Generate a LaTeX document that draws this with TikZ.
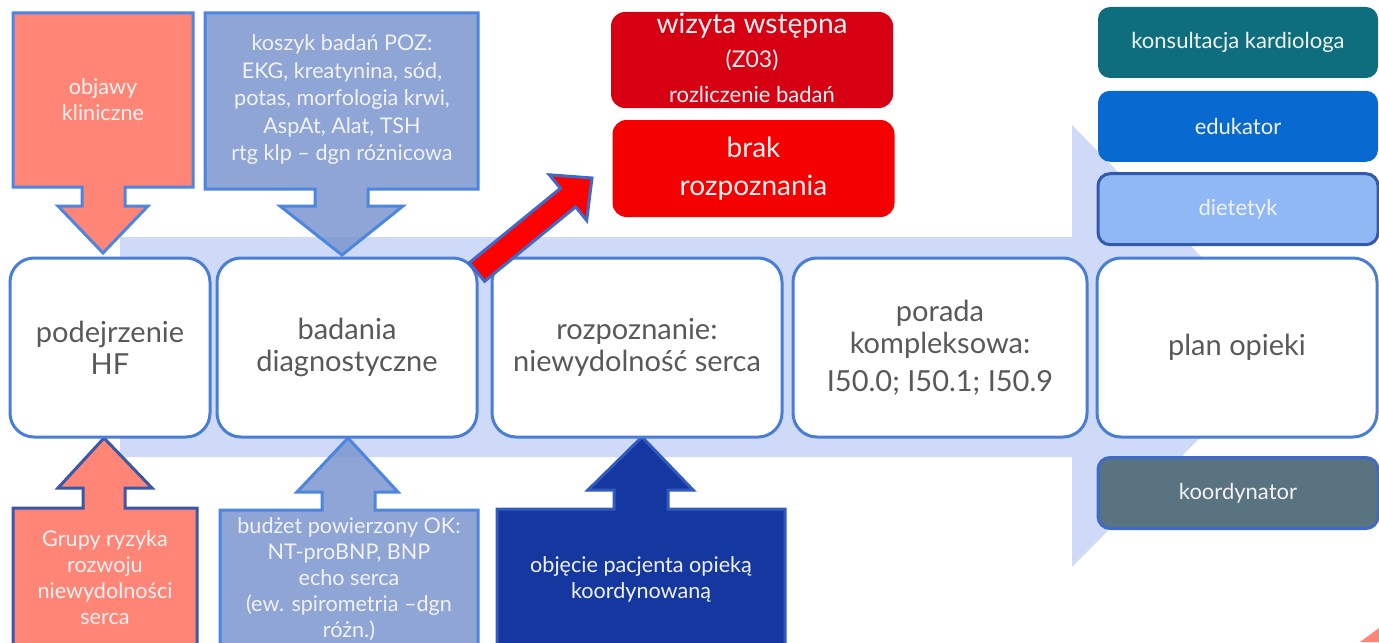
\documentclass[tikz,border=0pt]{standalone}
\usepackage{fontspec}
\setmainfont{Lato}
\usetikzlibrary{positioning}

\definecolor{bandblue}{RGB}{207,218,248}
\definecolor{stageline}{RGB}{74,125,214}
\definecolor{stagetext}{RGB}{89,89,89}
\definecolor{salmon}{RGB}{255,133,119}
\definecolor{steel}{RGB}{126,152,207}
\definecolor{callline}{RGB}{77,134,224}
\definecolor{darkline}{RGB}{58,88,168}
\definecolor{navy}{RGB}{20,56,160}
\definecolor{navyline}{RGB}{50,90,190}
\definecolor{wizred}{RGB}{214,0,18}
\definecolor{brakred}{RGB}{245,0,0}
\definecolor{arrowline}{RGB}{63,106,200}
\definecolor{teal}{RGB}{14,110,125}
\definecolor{edublue}{RGB}{8,106,208}
\definecolor{dietblue}{RGB}{143,184,245}
\definecolor{dietline}{RGB}{50,90,170}
\definecolor{koordgray}{RGB}{90,115,128}
\definecolor{lighttext}{RGB}{242,242,242}

\begin{document}
\begin{tikzpicture}[x=0.5pt,y=-0.5pt,
    stage/.style={draw=stageline, line width=1.5pt, fill=white, rounded corners=12pt,
        text=stagetext, align=center, font=\fontsize{14.5}{16}\selectfont},
    side/.style={rounded corners=6pt, minimum width=140pt, minimum height=35.5pt,
        text=lighttext, font=\fontsize{11}{13}\selectfont},
    redbox/.style={rounded corners=7pt, minimum width=141pt, text=lighttext, align=center},
    call/.style={line width=1.5pt, line join=miter},
    calltext/.style={align=center, text=lighttext, font=\fontsize{10.8}{13}\selectfont}
]
\useasboundingbox (0,0) rectangle (1379,642);

% Main band
\fill[bandblue] (120,237) -- (1072,237) -- (1072,125) -- (1290,347) -- (1072,567)
    -- (1072,457) -- (120,457) -- cycle;

% Arrows from above
\draw[call, draw=callline, fill=salmon] (13,13) -- (193,13) -- (193,187) -- (125,187)
    -- (125,206) -- (148,206) -- (103,253) -- (58,206) -- (82,206) -- (82,187)
    -- (13,187) -- cycle;
\node[calltext] (objawy) at (103,100) {objawy\\kliniczne};

\draw[call, draw=callline, fill=steel, fill opacity=0.88] (205,13) -- (478,13) -- (478,189)
    -- (368,189) -- (368,206) -- (403,206) -- (342,255) -- (280,206) -- (315,206)
    -- (315,189) -- (205,189) -- cycle;
\node[calltext, font=\fontsize{10.8}{13.75}\selectfont] (koszyk) at (342,100)
    {koszyk badań POZ:\\EKG, kreatynina, sód,\\potas, morfologia krwi,\\AspAt, Alat, TSH\\rtg klp – dgn różnicowa};

% Arrows from below
\draw[call, draw=darkline, fill=salmon] (13,660) -- (13,508) -- (83,508) -- (83,488)
    -- (58,488) -- (104,438) -- (152,488) -- (125,488) -- (125,508) -- (197,508)
    -- (197,660) -- cycle;
\node[calltext] (ryzyko) at (105,578) {Grupy ryzyka\\rozwoju\\niewydolności\\serca};

\draw[call, draw=callline, fill=steel, fill opacity=0.88] (220,660) -- (220,510) -- (322,510)
    -- (322,492) -- (297,492) -- (348,438) -- (398,492) -- (375,492) -- (375,510)
    -- (478,510) -- (478,660) -- cycle;
\node[calltext] (budzet) at (349,579)
    {budżet powierzony OK:\\NT-proBNP, BNP\\echo serca\\(ew. spirometria –dgn\\różn.)};

\draw[call, draw=navyline, fill=navy] (497,660) -- (497,509) -- (614,509)
    -- (614,490) -- (588,490) -- (642,437) -- (693,490) -- (668,490) -- (668,509)
    -- (785,509) -- (785,660) -- cycle;
\node[calltext] (objecie) at (641,579) {objęcie pacjenta opieką\\koordynowaną};

% Stages
\node[stage, minimum width=100pt, minimum height=89.5pt] (podej) at (110,347.5) {podejrzenie\\HF};
\node[stage, minimum width=130pt, minimum height=89.5pt] (badania) at (347,347.5) {badania\\diagnostyczne};
\node[stage, minimum width=145pt, minimum height=89.5pt] (rozpozn) at (637,347.5) {rozpoznanie:\\niewydolność serca};
\node[stage, minimum width=147pt, minimum height=89.5pt] (porada) at (940,347.5)
    {porada\\kompleksowa:\\[3pt]I50.0; I50.1; I50.9};
\node[stage, minimum width=140pt, minimum height=89.5pt] (plan) at (1237,347.5) {plan opieki};

% Red boxes
\node[redbox, fill=wizred, minimum height=48pt] (wizyta) at (752,60) {};
\node[text=lighttext, font=\fontsize{14}{16}\selectfont] (wizyta1) at (752,26) {wizyta wstępna};
\node[text=lighttext, font=\fontsize{11.5}{13}\selectfont] (wizyta2) at (752,60) {(Z03)};
\node[text=lighttext, font=\fontsize{11}{13}\selectfont] (wizyta3) at (752,94) {rozliczenie badań};
\node[redbox, fill=brakred, minimum height=48.5pt, font=\fontsize{14}{19}\selectfont]
    (brak) at (753.5,168.5) {brak\\rozpoznania};

% Arrow to "brak rozpoznania"
\draw[line width=1.5pt, draw=arrowline, fill=red, line join=miter]
    (469.4,262.7) -- (560.4,188.3) -- (549.3,174.8) -- (592,178) -- (586.7,220.4)
    -- (575.6,206.9) -- (484.6,281.3) -- cycle;

% Team
\node[side, fill=teal] (kardio) at (1238,42.5) {konsultacja kardiologa};
\node[side, fill=edublue, below=6pt of kardio] (eduk) {edukator};
\node[side, fill=dietblue, draw=dietline, line width=1.5pt, below=5pt of eduk] (diet) {dietetyk};
\node[side, fill=koordgray, draw=arrowline, line width=1.5pt] (koord) at (1238,493) {koordynator};

\fill[salmon] (1360,642) -- (1379,628) -- (1379,642) -- cycle;
\end{tikzpicture}
\end{document}
